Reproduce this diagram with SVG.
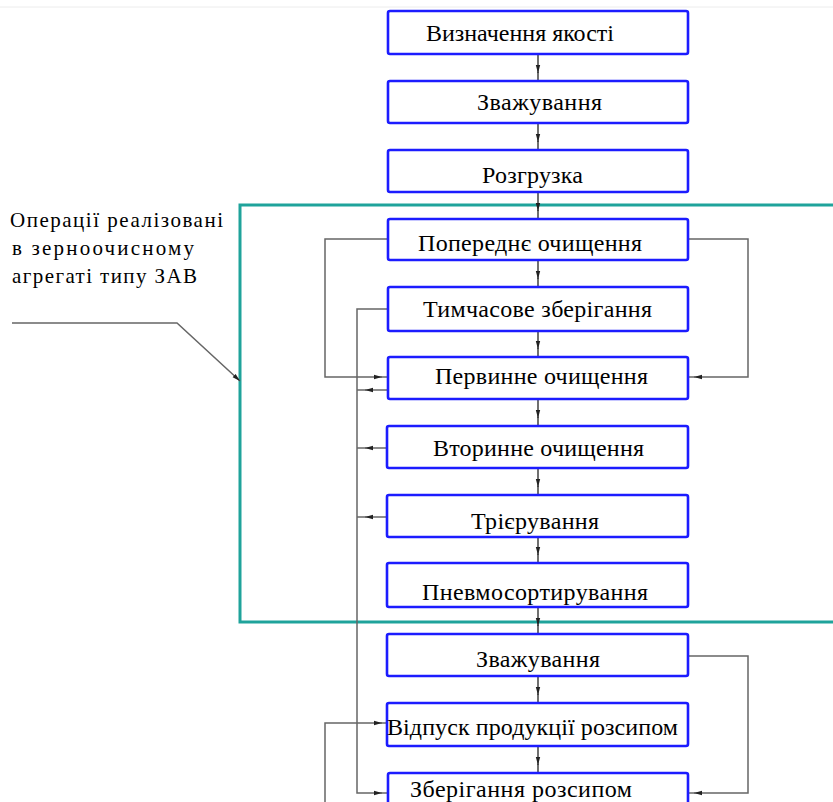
<svg xmlns="http://www.w3.org/2000/svg" width="833" height="802" viewBox="0 0 833 802">
<defs>
<style>
.box{fill:#fff;stroke:#1c1cff;stroke-width:2.6}
.lbl{font-family:"Liberation Serif","DejaVu Serif","Times New Roman",serif;font-size:24px;fill:#000}
.note{font-family:"Liberation Serif","DejaVu Serif","Times New Roman",serif;font-size:21px;fill:#000}
.c{fill:none;stroke:#333;stroke-width:1.4}
.ca{fill:none;stroke:#333;stroke-width:1.4;marker-end:url(#ah)}
.g{fill:none;stroke:#666;stroke-width:1.5}
.ga{fill:none;stroke:#666;stroke-width:1.5;marker-end:url(#ah)}
</style>
<marker id="ah" viewBox="0 0 8 6" refX="8" refY="3" markerWidth="8" markerHeight="6" markerUnits="userSpaceOnUse" orient="auto">
<path d="M0,0.8 L8,3 L0,5.2 Z" fill="#222"/>
</marker>
</defs>
<rect width="833" height="802" fill="#fff"/>
<line x1="0" y1="7" x2="833" y2="7" stroke="#ececec" stroke-width="1"/>
<rect id="zav-frame" x="240" y="205" width="620" height="417" fill="none" stroke="#1fa39b" stroke-width="3"/>
<g id="connectors">
<path class="ca" d="M538,54 V73"/><path class="c" d="M538,72 V81"/>
<path class="ca" d="M538,123 V142"/><path class="c" d="M538,141 V150"/>
<path class="ca" d="M538,192 V211"/><path class="c" d="M538,210 V219"/>
<path class="ca" d="M538,260 V279"/><path class="c" d="M538,278 V287"/>
<path class="ca" d="M538,331 V349"/><path class="c" d="M538,348 V357"/>
<path class="ca" d="M538,399 V418"/><path class="c" d="M538,417 V426"/>
<path class="ca" d="M538,468 V487"/><path class="c" d="M538,486 V495"/>
<path class="ca" d="M538,537 V555"/><path class="c" d="M538,554 V563"/>
<path class="ca" d="M538,607 V626"/><path class="c" d="M538,625 V634"/>
<path class="ca" d="M538,676 V695"/><path class="c" d="M538,694 V703"/>
<path class="ca" d="M538,746 V765"/><path class="c" d="M538,764 V773"/>
<path class="ga" d="M388,239 H325 V377 H382"/><path class="g" d="M381,377 H388"/>
<path class="ga" d="M688,239 H748 V377 H694"/><path class="g" d="M695,377 H688"/>
<path class="ga" d="M388,309 H357 V793 H382"/><path class="g" d="M381,793 H388"/>
<path class="ga" d="M388,390 H365"/><path class="g" d="M366,390 H357"/>
<path class="ga" d="M388,448 H365"/><path class="g" d="M366,448 H357"/>
<path class="ga" d="M388,517 H365"/><path class="g" d="M366,517 H357"/>
<path class="ga" d="M688,656 H748 V793 H694"/><path class="g" d="M695,793 H688"/>
<path class="ga" d="M325,802 V723 H382"/><path class="g" d="M381,723 H388"/>
<path class="ga" d="M12,323 H177 L240,381"/>
</g>
<g id="n1"><rect class="box" x="388" y="11" width="300" height="43" rx="2"/><text class="lbl" x="426" y="41" textLength="188">Визначення якості</text></g>
<g id="n2"><rect class="box" x="388" y="81" width="300" height="42" rx="2"/><text class="lbl" x="477" y="110" textLength="125">Зважування</text></g>
<g id="n3"><rect class="box" x="388" y="150" width="300" height="42" rx="2"/><text class="lbl" x="482" y="183" textLength="101">Розгрузка</text></g>
<g id="n4"><rect class="box" x="388" y="219" width="300" height="41" rx="2"/><text class="lbl" x="418" y="251" textLength="224">Попереднє очищення</text></g>
<g id="n5"><rect class="box" x="388" y="287" width="300" height="44" rx="2"/><text class="lbl" x="423" y="317" textLength="229">Тимчасове зберігання</text></g>
<g id="n6"><rect class="box" x="388" y="357" width="300" height="42" rx="2"/><text class="lbl" x="435" y="384" textLength="213">Первинне очищення</text></g>
<g id="n7"><rect class="box" x="387" y="426" width="301" height="42" rx="2"/><text class="lbl" x="433" y="456" textLength="211">Вторинне очищення</text></g>
<g id="n8"><rect class="box" x="387" y="495" width="301" height="42" rx="2"/><text class="lbl" x="471" y="529" textLength="128">Трієрування</text></g>
<g id="n9"><rect class="box" x="387" y="563" width="301" height="44" rx="2"/><text class="lbl" x="422" y="600" textLength="226">Пневмосортирування</text></g>
<g id="n10"><rect class="box" x="387" y="634" width="301" height="42" rx="2"/><text class="lbl" x="476" y="667" textLength="124">Зважування</text></g>
<g id="n11"><rect class="box" x="387" y="703" width="301" height="43" rx="2"/><text class="lbl" x="387" y="735" textLength="291">Відпуск продукції розсипом</text></g>
<g id="n12"><rect class="box" x="388" y="773" width="300" height="45" rx="2"/><text class="lbl" x="410" y="797" textLength="222">Зберігання розсипом</text></g>
<g id="note">
<text class="note" x="10" y="227" textLength="213">Операції реалізовані</text>
<text class="note" x="12" y="255" textLength="182">в зерноочисному</text>
<text class="note" x="12" y="283" textLength="185">агрегаті типу ЗАВ</text>
</g>
</svg>
